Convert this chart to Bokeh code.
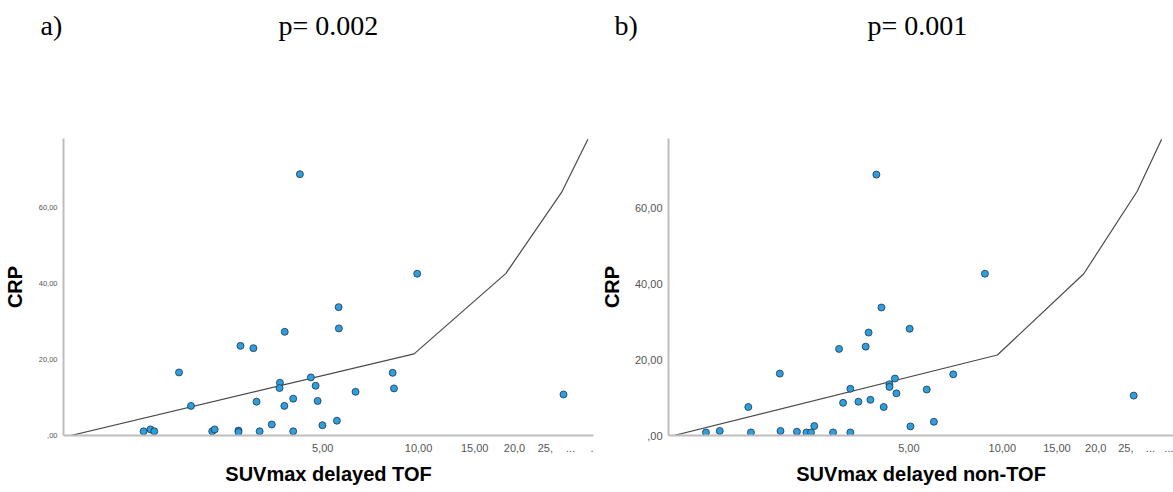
from bokeh.plotting import figure
from bokeh.models import FixedTicker, Label, Range1d
from bokeh.layouts import row, column
from bokeh.embed import file_html
from bokeh.resources import INLINE

# ---------------- data ----------------
suv_tof = [1.37, 1.44, 1.48, 1.77, 1.93, 2.25, 2.29, 2.72, 2.72, 2.76, 3.03,
           3.10, 3.17, 3.46, 3.67, 3.66, 3.79, 3.80, 4.04, 4.04, 4.24, 5.61,
           5.62, 4.59, 4.75, 6.34, 8.29, 8.37, 4.82, 4.99, 5.54, 9.90, 28.5]
crp_tof = [1.1, 1.6, 1.1, 16.6, 7.8, 1.1, 1.6, 1.3, 0.9, 23.6, 23.0,
           8.9, 1.1, 2.9, 13.9, 12.5, 7.8, 27.3, 9.7, 1.1, 68.8, 33.8,
           28.2, 15.3, 13.1, 11.5, 16.5, 12.4, 9.1, 2.7, 3.9, 42.6, 10.8]

suv_nontof = [1.11, 1.23, 1.52, 1.55, 1.92, 1.93, 2.18, 2.34, 2.42, 2.48, 2.85,
              2.98, 3.07, 3.24, 3.24, 3.44, 3.63, 3.71, 3.76, 4.08, 5.03, 4.51,
              4.33, 4.33, 4.56, 4.15, 5.06, 6.02, 5.71, 6.95, 26.5, 3.93, 8.79]
crp_nontof = [0.8, 1.2, 7.5, 0.8, 16.3, 1.2, 1.0, 0.8, 0.8, 2.5, 0.8,
              22.8, 8.6, 12.3, 0.8, 8.9, 23.4, 27.1, 9.4, 33.7, 28.1, 15.0,
              13.5, 12.8, 11.1, 7.5, 2.4, 3.6, 12.1, 16.1, 10.5, 68.7, 42.6]

fit_tof_x = [0.81, 9.68, 18.8, 28.1, 34.0]
fit_tof_y = [0.0, 21.5, 42.7, 64.0, 78.0]
fit_nontof_x = [0.875, 9.64, 18.3, 27.2, 32.6]
fit_nontof_y = [0.0, 21.2, 42.6, 64.3, 78.0]

x_ticks = [5, 10, 15, 20, 25, 30, 35]
x_labels_a = ["5,00", "10,00", "15,00", "20,0", "25,", "...", "."]
x_labels_b = ["5,00", "10,00", "15,00", "20,0", "25,", "...", "..."]
y_ticks = [0, 20, 40, 60]
y_labels = [",00", "20,00", "40,00", "60,00"]

panel_letters = ["a)", "b)"]
p_values = ["p= 0.002", "p= 0.001"]
x_titles = ["SUVmax delayed TOF", "SUVmax delayed non-TOF"]
y_title = "CRP"

HEAD_H = 60
PLOT_H = 492 - HEAD_H


def make_panel(xs, ys, fx, fy, xlabels, xtitle, width,
               bl, br, bt, bb, xr, yr, ytick_size, ytick_stand, ylab_stand):
    p = figure(width=width, height=PLOT_H, x_axis_type="log",
               x_range=Range1d(*xr), y_range=Range1d(*yr),
               output_backend="svg", toolbar_location=None,
               min_border_left=bl, min_border_right=br,
               min_border_top=bt, min_border_bottom=bb)
    p.outline_line_color = None
    p.xgrid.visible = False
    p.ygrid.visible = False
    p.background_fill_color = "white"
    p.border_fill_color = "white"

    p.line(fx, fy, line_color="#4a4a4a", line_width=1.2)
    p.scatter(xs, ys, size=7, fill_color="#2f9edc", line_color="#1c3550",
              line_width=0.8)

    xa = p.xaxis[0]
    xa.ticker = FixedTicker(ticks=x_ticks, minor_ticks=[])
    xa.major_label_overrides = {t: l for t, l in zip(x_ticks, xlabels)}
    xa.major_tick_line_color = None
    xa.minor_tick_line_color = None
    xa.axis_line_color = "#bdbdbd"
    xa.axis_line_width = 2
    xa.major_label_text_font = "Liberation Sans"
    xa.major_label_text_font_size = "11px"
    xa.major_label_text_color = "#555555"
    xa.major_label_standoff = 2
    xa.axis_label = xtitle
    xa.axis_label_text_font = "Liberation Sans"
    xa.axis_label_text_font_style = "bold"
    xa.axis_label_text_font_size = "20px"
    xa.axis_label_text_color = "black"
    xa.axis_label_standoff = 8

    ya = p.yaxis[0]
    ya.ticker = FixedTicker(ticks=y_ticks, minor_ticks=[])
    ya.major_label_overrides = {t: l for t, l in zip(y_ticks, y_labels)}
    ya.major_tick_line_color = None
    ya.minor_tick_line_color = None
    ya.axis_line_color = "#bdbdbd"
    ya.axis_line_width = 2
    ya.major_label_text_font = "Liberation Sans"
    ya.major_label_text_font_size = ytick_size
    ya.major_label_text_color = "#555555"
    ya.major_label_standoff = ytick_stand
    ya.axis_label = y_title
    ya.axis_label_text_font = "Liberation Sans"
    ya.axis_label_text_font_style = "bold"
    ya.axis_label_text_font_size = "20px"
    ya.axis_label_text_color = "black"
    ya.axis_label_standoff = ylab_stand
    return p


# header strip with panel letters and p-values
head = figure(width=1173, height=HEAD_H, x_range=Range1d(0, 1173),
              y_range=Range1d(0, HEAD_H), output_backend="svg",
              toolbar_location=None, x_axis_location=None, y_axis_location=None,
              min_border=0)
head.outline_line_color = None
head.xgrid.visible = False
head.ygrid.visible = False
head_pos = [(40, panel_letters[0]), (278, p_values[0]),
            (614, panel_letters[1]), (867, p_values[1])]
for xx, txt in head_pos:
    head.add_layout(Label(x=xx, y=HEAD_H - 25, text=txt,
                          text_font="Liberation Serif", text_font_size="28px",
                          text_color="black", text_baseline="alphabetic",
                          text_align="left"))

pa = make_panel(suv_tof, crp_tof, fit_tof_x, fit_tof_y, x_labels_a, x_titles[0],
                597, 62, 4, 138 - HEAD_H, 57,
                (0.768, 35.4), (0, 78.2), "7.5px", 0, 10)
pb = make_panel(suv_nontof, crp_nontof, fit_nontof_x, fit_nontof_y, x_labels_b,
                x_titles[1], 576, 71, 0, 133 - HEAD_H, 57,
                (0.841, 35.6), (0, 78.2), "11px", 0, 9)

layout = column(head, row(pa, pb, spacing=0), spacing=0)
open("out.html", "w").write(file_html(layout, INLINE))
